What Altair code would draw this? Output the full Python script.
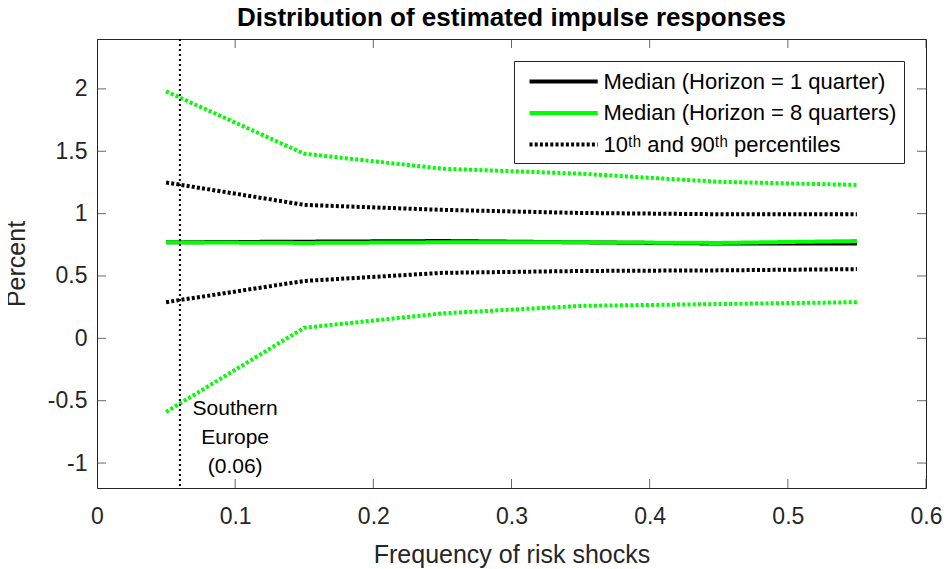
import pandas as pd
import altair as alt

# frequency of risk shocks (x) and the estimated responses (percent)
freq = [0.05, 0.15, 0.25, 0.35, 0.45, 0.55]
med_h1 = [0.77, 0.775, 0.78, 0.77, 0.76, 0.76]
med_h8 = [0.77, 0.765, 0.77, 0.77, 0.765, 0.78]
p90_h1 = [1.25, 1.07, 1.03, 1.005, 0.995, 0.995]
p10_h1 = [0.29, 0.46, 0.525, 0.54, 0.545, 0.555]
p90_h8 = [1.98, 1.48, 1.36, 1.32, 1.255, 1.23]
p10_h8 = [-0.59, 0.085, 0.2, 0.26, 0.275, 0.29]

keys = ["Median (Horizon = 1 quarter)",
        "Median (Horizon = 8 quarters)",
        "10ᵗʰ and 90ᵗʰ percentiles",
        "percentiles (8 quarters)"]

x_ticks = [0, 0.1, 0.2, 0.3, 0.4, 0.5, 0.6]
y_ticks = [-1, -0.5, 0, 0.5, 1, 1.5, 2]
x_range = [0, 0.6]
y_range = [-1.2, 2.4]

se_freq = 0.06
se_label = "Southern\nEurope\n(0.06)"
se_label_x = 0.1
se_label_y = -0.57

FONT = "Liberation Sans"
INK = "#262626"

series = [
    (keys[2], "p90_h1", p90_h1),
    (keys[2], "p10_h1", p10_h1),
    (keys[3], "p90_h8", p90_h8),
    (keys[3], "p10_h8", p10_h8),
    (keys[0], "med_h1", med_h1),
    (keys[1], "med_h8", med_h8),
]
rows = []
for key, name, ys in series:
    for x, y in zip(freq, ys):
        rows.append({"x": x, "y": y, "key": key, "line": name})
df = pd.DataFrame(rows)
pct_df = df[df["line"].str.startswith("p")]
med_df = df[df["line"].str.startswith("med")]

legend = alt.Legend(
    values=keys[:3], title=None, orient="top-right", offset=22, padding=7.5,
    strokeColor=INK, fillColor="white", cornerRadius=0,
    symbolType="M-1,0H5.2", symbolSize=484, symbolStrokeWidth=4,
    symbolOffset=6, labelOffset=50, labelFont=FONT, labelFontSize=22,
    labelColor="black", rowPadding=7.5, labelLimit=500,
)
color = alt.Color("key:N", scale=alt.Scale(domain=keys, range=["#000000", "#00ff00", "#000000", "#00ff00"]), legend=legend)
dash = alt.StrokeDash("key:N", scale=alt.Scale(domain=keys, range=[[1, 0], [1, 0], [3, 2.2], [3, 2.2]]), legend=legend)

x_enc = alt.X("x:Q", scale=alt.Scale(domain=x_range, nice=False, zero=False),
              axis=alt.Axis(values=x_ticks, ticks=False, domain=False, grid=False, labelFlush=False,
                            labelExpr="datum.value + ''", labelFontSize=23, labelFont=FONT,
                            labelColor=INK, labelPadding=17, title="Frequency of risk shocks",
                            titleFontSize=25, titleFont=FONT, titleFontWeight="normal",
                            titleColor=INK, titlePadding=14))
y_enc = alt.Y("y:Q", scale=alt.Scale(domain=y_range, nice=False, zero=False),
              axis=alt.Axis(values=y_ticks, ticks=False, domain=False, grid=False, labelFlush=False,
                            labelExpr="datum.value + ''", labelFontSize=23, labelFont=FONT,
                            labelColor=INK, labelPadding=10, title="Percent",
                            titleFontSize=25, titleFont=FONT, titleFontWeight="normal",
                            titleColor=INK, titlePadding=18))

pct = alt.Chart(pct_df).mark_line(strokeWidth=4, strokeCap="butt").encode(
    x=x_enc, y=y_enc, color=color, strokeDash=dash, detail="line:N")
med = alt.Chart(med_df).mark_line(strokeWidth=4).encode(
    x="x:Q", y="y:Q", color=color, strokeDash=dash, detail="line:N")

vline = alt.Chart(pd.DataFrame({"x": [se_freq]})).mark_rule(
    color="black", strokeWidth=2, strokeDash=[2, 3]).encode(x="x:Q")

note = alt.Chart(pd.DataFrame({"x": [se_label_x], "y": [se_label_y], "t": [se_label]})).mark_text(
    font=FONT, fontSize=21, color="black", lineBreak="\n", lineHeight=29,
    align="center", baseline="middle").encode(x="x:Q", y="y:Q", text="t:N")

# inward tick marks on all four sides of the box
xt = pd.DataFrame([{"x": v, "y": e} for e in y_range for v in x_ticks])
yt = pd.DataFrame([{"x": e, "y": v} for e in x_range for v in y_ticks])
xticks = alt.Chart(xt).mark_tick(orient="vertical", size=18, thickness=1, clip=True, color=INK).encode(x="x:Q", y="y:Q")
yticks = alt.Chart(yt).mark_tick(orient="horizontal", size=18, thickness=1, clip=True, color=INK).encode(x="x:Q", y="y:Q")

chart = alt.layer(pct, med, vline, note, xticks, yticks).properties(
    width=829, height=449,
    padding={"left": 89, "top": 31, "right": 17, "bottom": 80},
    autosize=alt.AutoSizeParams(type="none"),
    title=alt.TitleParams("Distribution of estimated impulse responses", fontSize=26,
                          fontWeight="bold", font=FONT, color="black", offset=7, anchor="middle"),
).configure_view(stroke=INK, strokeWidth=1)

chart.save("out.html", embed_options={"renderer": "svg", "actions": False})
